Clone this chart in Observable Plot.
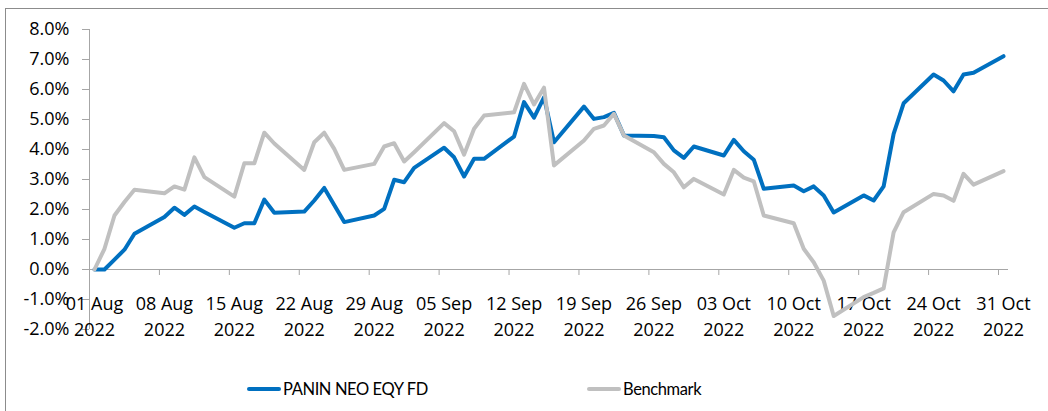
<!DOCTYPE html>
<html>
<head>
<meta charset="utf-8">
<script src="https://cdn.jsdelivr.net/npm/d3@7"></script>
<script src="https://cdn.jsdelivr.net/npm/@observablehq/plot@0.6"></script>
<style>
  html, body { margin: 0; padding: 0; background: #fff; }
  #wrap { position: relative; width: 1048px; height: 411px; overflow: hidden; }
  #frame { position: absolute; left: 5px; top: 8px; width: 1060px; height: 420px; border: 1px solid #8c8c8c; box-sizing: border-box; }
  #chart { position: absolute; left: 0; top: 0; }
  .lg { position: absolute; top: 379px; height: 20px; font-family: Lato, sans-serif; font-size: 16.5px; line-height: 20px; color: #000; letter-spacing: -0.4px; }
  .lg i { position: absolute; left: 0; top: 8px; width: 34px; height: 3.5px; border-radius: 2px; }
  .lg span { position: absolute; left: 36px; top: 0; white-space: nowrap; }
</style>
</head>
<body>
<div id="wrap">
  <div id="frame"></div>
  <div id="chart"></div>
  <div id="legend"></div>
</div>
<script>
// ---- data ----
const dates = [
  "2022-08-01","2022-08-02","2022-08-03","2022-08-04","2022-08-05",
  "2022-08-08","2022-08-09","2022-08-10","2022-08-11","2022-08-12",
  "2022-08-15","2022-08-16","2022-08-17","2022-08-18","2022-08-19",
  "2022-08-22","2022-08-23","2022-08-24","2022-08-25","2022-08-26",
  "2022-08-29","2022-08-30","2022-08-31","2022-09-01","2022-09-02",
  "2022-09-05","2022-09-06","2022-09-07","2022-09-08","2022-09-09",
  "2022-09-12","2022-09-13","2022-09-14","2022-09-15","2022-09-16",
  "2022-09-19","2022-09-20","2022-09-21","2022-09-22","2022-09-23",
  "2022-09-26","2022-09-27","2022-09-28","2022-09-29","2022-09-30",
  "2022-10-03","2022-10-04","2022-10-05","2022-10-06","2022-10-07",
  "2022-10-10","2022-10-11","2022-10-12","2022-10-13","2022-10-14",
  "2022-10-17","2022-10-18","2022-10-19","2022-10-20","2022-10-21",
  "2022-10-24","2022-10-25","2022-10-26","2022-10-27","2022-10-28",
  "2022-10-31"
];
const fund = [
  0.00, 0.00, 0.33, 0.66, 1.19,
  1.75, 2.06, 1.82, 2.10, 1.92,
  1.39, 1.54, 1.54, 2.33, 1.89,
  1.93, 2.30, 2.72, 2.15, 1.58,
  1.80, 2.02, 2.99, 2.91, 3.39,
  4.06, 3.74, 3.10, 3.69, 3.69,
  4.43, 5.58, 5.06, 5.74, 4.24,
  5.43, 5.02, 5.08, 5.22, 4.47,
  4.45, 4.41, 3.97, 3.72, 4.10,
  3.80, 4.32, 3.94, 3.66, 2.69,
  2.80, 2.61, 2.77, 2.47, 1.90,
  2.47, 2.30, 2.77, 4.52, 5.54,
  6.50, 6.30, 5.94, 6.50, 6.56,
  7.11
];
const benchmark = [
  0.00, 0.69, 1.80, 2.25, 2.66,
  2.54, 2.77, 2.66, 3.74, 3.08,
  2.43, 3.54, 3.54, 4.56, 4.20,
  3.32, 4.24, 4.56, 4.02, 3.32,
  3.52, 4.10, 4.21, 3.60, 3.91,
  4.88, 4.61, 3.83, 4.69, 5.13,
  5.24, 6.19, 5.50, 6.06, 3.47,
  4.30, 4.69, 4.80, 5.19, 4.47,
  3.91, 3.52, 3.24, 2.74, 3.02,
  2.50, 3.32, 3.06, 2.94, 1.80,
  1.54, 0.69, 0.24, -0.37, -1.55,
  -0.92, -0.78, -0.63, 1.24, 1.91,
  2.52, 2.47, 2.29, 3.19, 2.83,
  3.28
];
const seriesNames = ["PANIN NEO EQY FD", "Benchmark"];
const seriesColors = ["#0070C0", "#C0C0C0"];
const xTicks = ["2022-08-01","2022-08-08","2022-08-15","2022-08-22","2022-08-29",
  "2022-09-05","2022-09-12","2022-09-19","2022-09-26",
  "2022-10-03","2022-10-10","2022-10-17","2022-10-24","2022-10-31"];
const yTicks = [-2, -1, 0, 1, 2, 3, 4, 5, 6, 7, 8];

// ---- build tables ----
const noon = s => new Date(s + "T12:00:00Z");
const midnight = s => new Date(s + "T00:00:00Z");
const rows = [];
[fund, benchmark].forEach((vals, i) => {
  vals.forEach((v, j) => rows.push({date: noon(dates[j]), value: v, series: seriesNames[i]}));
});
const tickDates = xTicks.map(midnight);
const labelDates = xTicks.map(noon);
const axisGray = "#a6a6a6";
const fmtDay = d3.utcFormat("%d %b");

const chart = Plot.plot({
  width: 1048,
  height: 345,
  marginLeft: 89,
  marginRight: 40,
  marginTop: 29,
  marginBottom: 16,
  x: {type: "utc", domain: [midnight("2022-08-01"), midnight("2022-11-01")], axis: null},
  y: {domain: [-2, 8], label: null},
  color: {domain: seriesNames, range: seriesColors},
  style: {fontFamily: "'Open Sans', sans-serif", fontSize: "18px", color: "#000", background: "transparent", overflow: "visible"},
  marks: [
    Plot.axisY(yTicks, {label: null, tickSize: 7, tickPadding: 13, tickFormat: d => d.toFixed(1) + "%", stroke: axisGray, fill: "#000", fontSize: 18}),
    Plot.ruleX([midnight("2022-08-01")], {y1: -2, y2: 8, stroke: axisGray, strokeWidth: 1}),
    Plot.ruleY([0], {stroke: axisGray, strokeWidth: 1}),
    Plot.ruleX(tickDates, {x: d => d, y1: 0, y2: -0.2, stroke: axisGray}),
    Plot.text(labelDates, {x: d => d, y: 0, text: d => fmtDay(d) + "\n" + d.getUTCFullYear(), dy: 22, lineAnchor: "top", lineHeight: 1.44, fontSize: 18, fill: "#000"}),
    Plot.line(rows, {x: "date", y: "value", z: "series", stroke: "series", strokeWidth: 4, strokeLinejoin: "round", strokeLinecap: "round"})
  ]
});
document.getElementById("chart").appendChild(chart);

// ---- legend ----
const legend = document.getElementById("legend");
const legendX = [247, 587];
seriesNames.forEach((name, i) => {
  const item = document.createElement("div");
  item.className = "lg";
  item.style.left = legendX[i] + "px";
  const sw = document.createElement("i");
  sw.style.background = seriesColors[i];
  const tx = document.createElement("span");
  tx.textContent = name;
  item.appendChild(sw);
  item.appendChild(tx);
  legend.appendChild(item);
});
</script>
</body>
</html>
